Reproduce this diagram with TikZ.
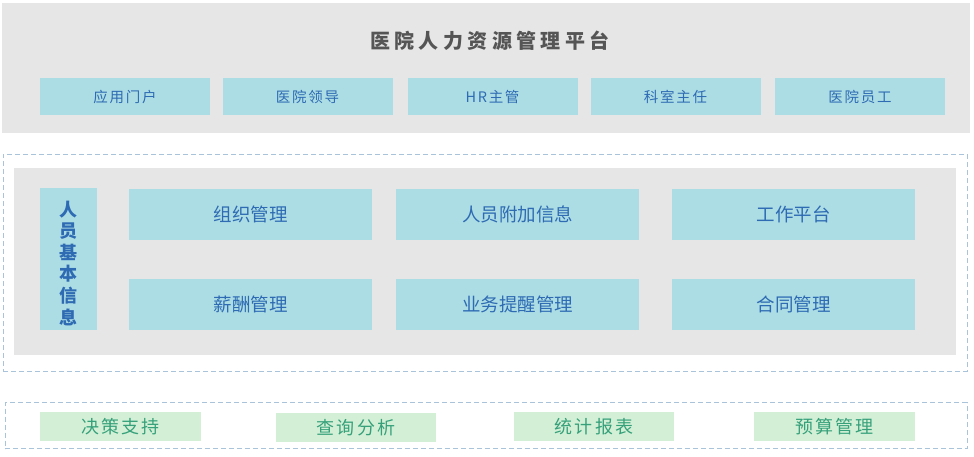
\documentclass[tikz,border=0pt]{standalone}
\usepackage{fontspec}
\setmainfont{Noto Sans CJK SC}
\newfontfamily\cjk{Noto Sans CJK SC}
\newfontfamily\cjktitle[LetterSpace=22]{Noto Sans CJK SC}
\newfontfamily\cjkrole[LetterSpace=12]{Noto Sans CJK SC}
\newfontfamily\cjkgreen[LetterSpace=12]{Noto Sans CJK SC}
\usetikzlibrary{positioning}
\definecolor{panelgray}{HTML}{E6E6E6}
\definecolor{cyanbox}{HTML}{ACDDE5}
\definecolor{bluetext}{HTML}{2E6BB3}
\definecolor{greenbox}{HTML}{D3F0D6}
\definecolor{greentext}{HTML}{35A07A}
\definecolor{dashcol}{HTML}{A9C3DA}
\definecolor{titlegray}{HTML}{555555}
\tikzset{
  panel/.style={fill=panelgray, draw=none},
  dashbox/.style={draw=dashcol, dashed, dash pattern=on 5pt off 3pt, line width=0.8pt},
  rolebox/.style={fill=cyanbox, draw=none, text=bluetext, font=\cjkrole\fontsize{14.5}{16}\selectfont, inner sep=0pt},
  modbox/.style={fill=cyanbox, draw=none, text=bluetext, font=\cjk\fontsize{18.5}{22}\selectfont, inner sep=0pt},
  greenlbl/.style={fill=greenbox, draw=none, text=greentext, font=\cjkgreen\fontsize{18}{20}\selectfont, inner sep=0pt},
}
\begin{document}
\begin{tikzpicture}[x=1pt, y=-1pt]
\useasboundingbox (0,0) rectangle (974,456);
% top panel
\node[panel, minimum width=968pt, minimum height=130pt, inner sep=0pt] (top) at (486,68) {};
\node[text=titlegray, font=\cjktitle\bfseries\fontsize{20}{22}\selectfont] (title) at (490,41) {医院人力资源管理平台};
\node[rolebox, minimum width=170pt, minimum height=37pt] (r1) at (125,96.5) {应用门户};
\node[rolebox, minimum width=170pt, minimum height=37pt] (r2) at (307.5,96.5) {医院领导};
\node[rolebox, minimum width=170pt, minimum height=37pt] (r3) at (492.5,96.5) {HR主管};
\node[rolebox, minimum width=170pt, minimum height=37pt] (r4) at (675.5,96.5) {科室主任};
\node[rolebox, minimum width=170pt, minimum height=37pt] (r5) at (860,96.5) {医院员工};
% middle dashed + gray
\node[dashbox, minimum width=964pt, minimum height=217pt, inner sep=0pt] (mid) at (485,262.5) {};
\node[panel, minimum width=942pt, minimum height=187pt, inner sep=0pt] (midpanel) at (485,261.5) {};
\node[modbox, minimum width=57pt, minimum height=142pt] (base) at (68.5,259) {};
\node[text=bluetext, font=\cjk\bfseries\fontsize{18}{21.6}\selectfont, align=center, inner sep=0pt] (basetxt) at (68.5,263) {人\\员\\基\\本\\信\\息};
\node[modbox, minimum width=243pt, minimum height=51pt] (m1) at (250.5,214.5) {组织管理};
\node[modbox, minimum width=243pt, minimum height=51pt] (m2) at (517.5,214.5) {人员附加信息};
\node[modbox, minimum width=243pt, minimum height=51pt] (m3) at (793.5,214.5) {工作平台};
\node[modbox, minimum width=243pt, minimum height=51pt] (m4) at (250.5,304) {薪酬管理};
\node[modbox, minimum width=243pt, minimum height=51pt] (m5) at (517.5,304) {业务提醒管理};
\node[modbox, minimum width=243pt, minimum height=51pt] (m6) at (793.5,304) {合同管理};
% bottom dashed
\node[dashbox, minimum width=962pt, minimum height=46pt, inner sep=0pt] (bot) at (486,425.5) {};
\node[greenlbl, minimum width=161pt, minimum height=29pt] (g1) at (120.5,426.5) {决策支持};
\node[greenlbl, minimum width=160pt, minimum height=29pt] (g2) at (356,427.5) {查询分析};
\node[greenlbl, minimum width=160pt, minimum height=29pt] (g3) at (594,426.5) {统计报表};
\node[greenlbl, minimum width=161pt, minimum height=29pt] (g4) at (834.5,426.5) {预算管理};
\end{tikzpicture}
\end{document}
